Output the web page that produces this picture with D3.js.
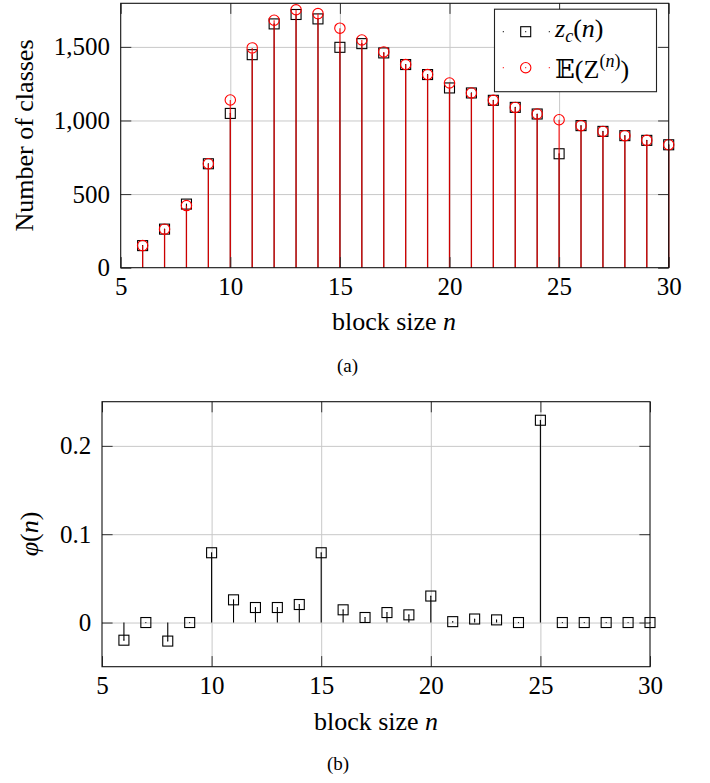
<!DOCTYPE html>
<html><head><meta charset="utf-8">
<script src="https://cdn.jsdelivr.net/npm/d3@7"></script>
<style>
html,body{margin:0;padding:0;background:#fff;}
svg{display:block;}
svg text{font-family:"Liberation Serif","DejaVu Serif","Noto Serif",serif !important;fill:#000;}
</style></head>
<body>
<svg id="chart" width="710" height="783"></svg>
<script>
// ---- data ----
const blockSize = [6,7,8,9,10,11,12,13,14,15,16,17,18,19,20,21,22,23,24,25,26,27,28,29,30];
const zc        = [150,262,432,706,1048,1447,1656,1720,1690,1497,1522,1459,1380,1312,1221,1187,1137,1089,1044,774,965,926,897,865,835];
const expected  = [150,262,422,706,1139,1493,1681,1752,1726,1627,1547,1466,1380,1312,1255,1187,1137,1089,1044,1005,965,926,897,865,835];
const phi       = [-0.020,0,-0.021,0,0.079,0.0257,0.017,0.017,0.0204,0.079,0.0144,0.0057,0.0113,0.0087,0.030,0.001,0.004,0.003,0,0.229,0,0,0,0,0];
const xTicks    = [5,10,15,20,25,30];
const xGrid     = [10,15,20,25];
const yTicksTop = [0,500,1000,1500];
const yGridTop  = [500,1000,1500];
const yTicksBot = [0,0.1,0.2];
const yGridBot  = [0,0.1,0.2];

const svg = d3.select("#chart");
const TICK = 10.6, FS = 25;
const FONT = '"Liberation Serif","DejaVu Serif","Noto Serif",serif';

function frame(g, x, y, W, H, yGrid){
  g.append("g").attr("transform",`translate(0,${H})`)
    .call(d3.axisBottom(x).tickValues(xGrid).tickSize(-H).tickFormat(""))
    .call(s=>{s.select(".domain").remove(); s.selectAll("line").attr("stroke","#c8c8c8").attr("stroke-width",1);});
  g.append("g")
    .call(d3.axisLeft(y).tickValues(yGrid).tickSize(-W).tickFormat(""))
    .call(s=>{s.select(".domain").remove(); s.selectAll("line").attr("stroke","#c8c8c8").attr("stroke-width",1);});
}
function ticksAndLabels(g, x, y, W, H, yTicks, yFmt){
  const inner = s=>{s.select(".domain").remove(); s.selectAll("line").attr("stroke","#333").attr("stroke-width",1);};
  g.append("g").attr("transform",`translate(0,${H})`).call(d3.axisBottom(x).tickValues(xTicks).tickSize(-TICK).tickFormat("")).call(inner);
  g.append("g").call(d3.axisTop(x).tickValues(xTicks).tickSize(-TICK).tickFormat("")).call(inner);
  g.append("g").call(d3.axisLeft(y).tickValues(yTicks).tickSize(-TICK).tickFormat("")).call(inner);
  g.append("g").attr("transform",`translate(${W},0)`).call(d3.axisRight(y).tickValues(yTicks).tickSize(-TICK).tickFormat("")).call(inner);
  g.append("rect").attr("x",0).attr("y",0).attr("width",W).attr("height",H)
    .attr("fill","none").attr("stroke","#111").attr("stroke-width",1.1);
  g.append("g").attr("transform",`translate(0,${H})`)
    .call(d3.axisBottom(x).tickValues(xTicks).tickSize(0).tickPadding(9.3).tickFormat(d3.format("d")))
    .call(s=>{s.select(".domain").remove(); s.attr("font-family",FONT).attr("font-size",FS); s.selectAll("text").attr("fill","#000");});
  g.append("g")
    .call(d3.axisLeft(y).tickValues(yTicks).tickSize(0).tickPadding(10.7).tickFormat(yFmt))
    .call(s=>{s.select(".domain").remove(); s.attr("font-family",FONT).attr("font-size",FS); s.selectAll("text").attr("fill","#000");});
}
function squares(g, data, x, y, color){
  g.selectAll(null).data(data).enter().append("rect")
    .attr("x",d=>x(d.n)-5).attr("y",d=>y(d.v)-5).attr("width",10).attr("height",10)
    .attr("fill","none").attr("stroke",color).attr("stroke-width",1.1);
  g.selectAll(null).data(data).enter().append("circle")
    .attr("cx",d=>x(d.n)).attr("cy",d=>y(d.v)).attr("r",0.6).attr("fill",color);
}

// ================= (a) =================
{
  const L=120.7, T=3.3, W=548, H=264.4;
  const g = svg.append("g").attr("transform",`translate(${L},${T})`);
  const x = d3.scaleLinear().domain([5,30]).range([0,W]);
  const y = d3.scaleLinear().domain([0,1796]).range([H,0]);
  frame(g,x,y,W,H,yGridTop);
  const dz = blockSize.map((n,i)=>({n, v:zc[i]}));
  const de = blockSize.map((n,i)=>({n, v:expected[i]}));
  g.selectAll(null).data(dz).enter().append("line")
    .attr("x1",d=>x(d.n)).attr("x2",d=>x(d.n)).attr("y1",y(0)).attr("y2",d=>y(d.v))
    .attr("stroke","#000").attr("stroke-width",1.1);
  squares(g, dz, x, y, "#000");
  g.selectAll(null).data(de).enter().append("line")
    .attr("x1",d=>x(d.n)).attr("x2",d=>x(d.n)).attr("y1",y(0)).attr("y2",d=>y(d.v))
    .attr("stroke","#ff0000").attr("stroke-opacity",0.8).attr("stroke-width",1.3);
  g.selectAll(null).data(de).enter().append("circle")
    .attr("cx",d=>x(d.n)).attr("cy",d=>y(d.v)).attr("r",5.2)
    .attr("fill","none").attr("stroke","#ff0000").attr("stroke-width",1.1);
  ticksAndLabels(g,x,y,W,H,yTicksTop,d3.format(","));

  // legend
  const lg = svg.append("g");
  lg.append("rect").attr("x",494.5).attr("y",9.2).attr("width",162).attr("height",82.5)
    .attr("fill","#fff").attr("stroke","#222").attr("stroke-width",1.1);
  [[31.7,"#000"],[67.7,"#ff0000"]].forEach(([cy,c])=>{
    lg.append("circle").attr("cx",503.3).attr("cy",cy).attr("r",0.6).attr("fill",c);
    lg.append("circle").attr("cx",549.3).attr("cy",cy).attr("r",0.6).attr("fill",c);
  });
  lg.append("rect").attr("x",520.7).attr("y",26.7).attr("width",10).attr("height",10)
    .attr("fill","none").attr("stroke","#000").attr("stroke-width",1.1);
  lg.append("circle").attr("cx",525.7).attr("cy",31.7).attr("r",0.6).attr("fill","#000");
  lg.append("circle").attr("cx",525.7).attr("cy",67.7).attr("r",5.2)
    .attr("fill","none").attr("stroke","#ff0000").attr("stroke-width",1.1);
  lg.append("circle").attr("cx",525.7).attr("cy",67.7).attr("r",0.6).attr("fill","#ff0000");
  const t1 = lg.append("text").attr("x",555).attr("y",37).attr("font-size",FS+1);
  t1.append("tspan").attr("font-style","italic").text("z");
  t1.append("tspan").attr("font-style","italic").attr("font-size",18).attr("dy",5).text("c");
  t1.append("tspan").attr("dy",-5).text("(");
  t1.append("tspan").attr("font-style","italic").text("n");
  t1.append("tspan").text(")");
  const t2 = lg.append("text").attr("x",555).attr("y",78).attr("font-size",FS+1);
  t2.append("tspan").text("𝔼");
  t2.append("tspan").text("(Z");
  t2.append("tspan").attr("font-size",18).attr("dy",-11).text("(");
  t2.append("tspan").attr("font-size",18).attr("font-style","italic").text("n");
  t2.append("tspan").attr("font-size",18).text(")");
  t2.append("tspan").attr("dy",11).text(")");

  svg.append("text").attr("x",394).attr("y",330).attr("text-anchor","middle").attr("font-size",FS+1)
    .call(t=>{t.append("tspan").text("block size "); t.append("tspan").attr("font-style","italic").text("n");});
  svg.append("text").attr("transform","translate(33,135.5) rotate(-90)").attr("text-anchor","middle")
    .attr("font-size",FS+1).text("Number of classes");
  svg.append("text").attr("x",347.5).attr("y",371.5).attr("text-anchor","middle").attr("font-size",19).text("(a)");
}

// ================= (b) =================
{
  const L=102, T=401.7, W=548, H=265;
  const g = svg.append("g").attr("transform",`translate(${L},${T})`);
  const x = d3.scaleLinear().domain([5,30]).range([0,W]);
  const y = d3.scaleLinear().domain([-0.05,0.25]).range([H,0]);
  frame(g,x,y,W,H,yGridBot);
  const dp = blockSize.map((n,i)=>({n, v:phi[i]}));
  g.selectAll(null).data(dp).enter().append("line")
    .attr("x1",d=>x(d.n)).attr("x2",d=>x(d.n)).attr("y1",y(0)).attr("y2",d=>y(d.v))
    .attr("stroke","#000").attr("stroke-width",1.1);
  squares(g, dp, x, y, "#000");
  ticksAndLabels(g,x,y,W,H,yTicksBot,d3.format("~g"));

  svg.append("text").attr("x",376).attr("y",730).attr("text-anchor","middle").attr("font-size",FS+1)
    .call(t=>{t.append("tspan").text("block size "); t.append("tspan").attr("font-style","italic").text("n");});
  svg.append("text").attr("transform","translate(37.5,534) rotate(-90)").attr("text-anchor","middle")
    .attr("font-size",FS+1)
    .call(t=>{t.append("tspan").attr("font-style","italic").text("φ"); t.append("tspan").text("(");
              t.append("tspan").attr("font-style","italic").text("n"); t.append("tspan").text(")");});
  svg.append("text").attr("x",338).attr("y",770).attr("text-anchor","middle").attr("font-size",19).text("(b)");
}
</script>
</body></html>
